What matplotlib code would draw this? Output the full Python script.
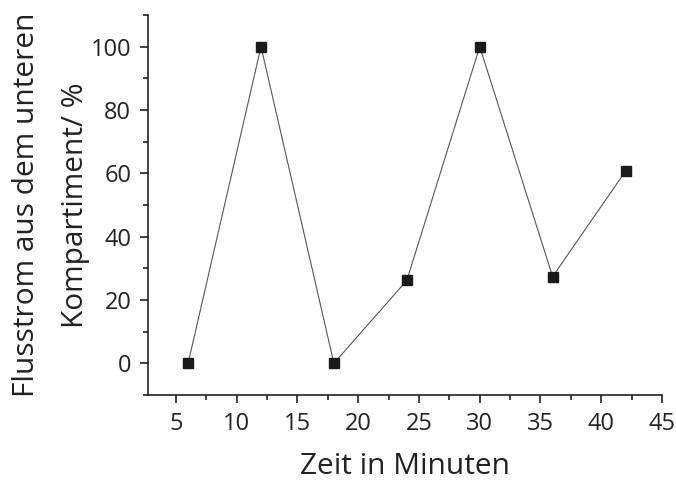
import matplotlib.pyplot as plt
from matplotlib.ticker import MultipleLocator

plt.rcParams['font.family'] = ['Open Sans', 'DejaVu Sans']

zeit = [6, 12, 18, 24, 30, 36, 42]
fluss = [0, 100, 0, 26.2, 100, 27.4, 60.7]

fig = plt.figure(figsize=(6.76, 4.82), dpi=100)
ax = fig.add_axes([148 / 676, 1 - 395 / 482, (662 - 148) / 676, (395 - 15) / 482])

ax.plot(zeit, fluss, color='#555555', lw=0.8, marker='s', ms=7,
        mfc='#1a1a1a', mec='#1a1a1a')

ax.set_xlim(2.7, 45)
ax.set_ylim(-10, 110)
ax.xaxis.set_major_locator(MultipleLocator(5))
ax.xaxis.set_minor_locator(MultipleLocator(2.5))
ax.yaxis.set_major_locator(MultipleLocator(20))
ax.yaxis.set_minor_locator(MultipleLocator(10))

for s in ['top', 'right']:
    ax.spines[s].set_visible(False)
for s in ['left', 'bottom']:
    ax.spines[s].set_color('#222222')
    ax.spines[s].set_linewidth(1.2)

ax.tick_params(which='major', length=6, width=1.2, labelsize=17, color='#222222',
               labelcolor='#222222', pad=6)
ax.tick_params(which='minor', length=3.5, width=1.2, color='#222222')

ax.set_xlabel('Zeit in Minuten', fontsize=21.5, color='#222222', labelpad=12)
ax.set_ylabel('Flusstrom aus dem unteren\nKompartiment/ %', fontsize=21.5,
              color='#222222', linespacing=1.9)
ax.yaxis.set_label_coords((51 - 148) / 514, 0.5)
ax.yaxis.label.set_verticalalignment('center')

fig.savefig('out.png', dpi=100)
